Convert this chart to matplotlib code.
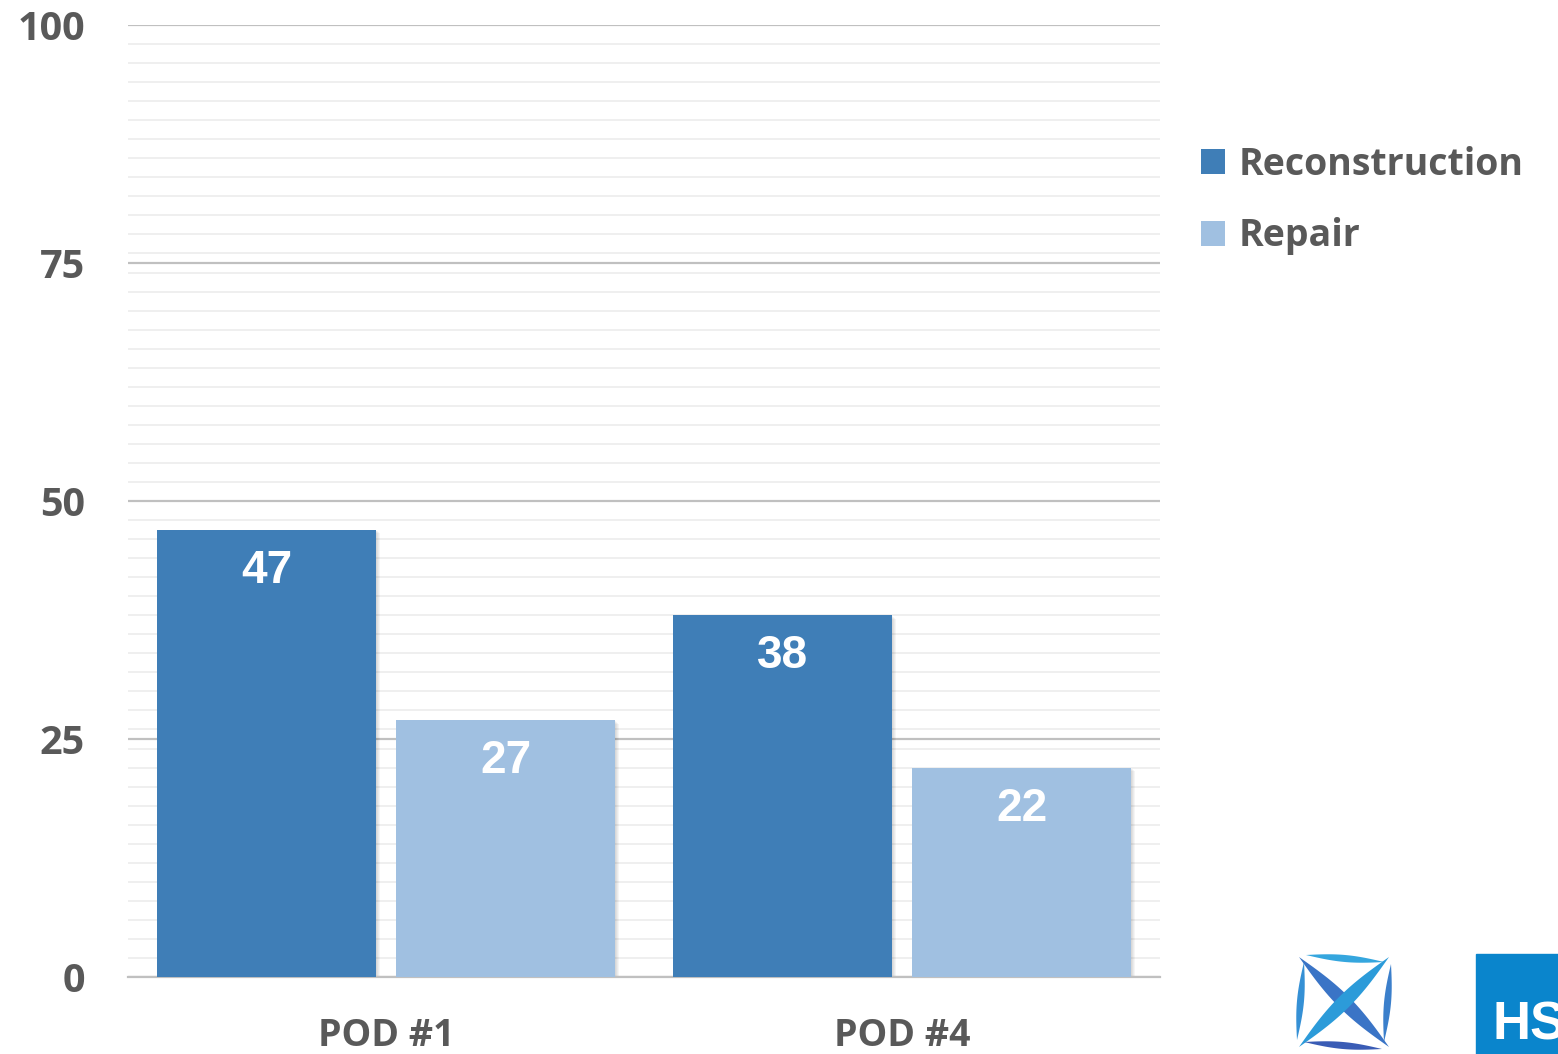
import matplotlib.pyplot as plt
import matplotlib.patches as mpatches
import numpy as np

categories = ['POD #1', 'POD #4']
reconstruction = [47, 38]
repair = [27, 22]
series_names = ['Reconstruction', 'Repair']

dark_blue = '#3f7eb7'
light_blue = '#a0c0e1'
gray = '#595959'

fig = plt.figure(figsize=(15.58, 10.54), dpi=100)
ax = fig.add_axes([128 / 1558, 1 - 977 / 1054, (1160 - 128) / 1558, (977 - 25) / 1054])

x = np.arange(len(categories))
w = 0.4226
off = 0.2316
b1 = ax.bar(x - off, reconstruction, w, color=dark_blue, zorder=3, label=series_names[0])
b2 = ax.bar(x + off, repair, w, color=light_blue, zorder=3, label=series_names[1])

# soft shadow
for bars in (b1, b2):
    for r in bars:
        for k in range(1, 5):
            ax.add_patch(mpatches.Rectangle((r.get_x() + 0.002 * k, 0), r.get_width(), r.get_height() - 0.1 * k,
                                            color='black', alpha=0.04, zorder=2, lw=0))

for bars in (b1, b2):
    for r in bars:
        ax.text(r.get_x() + r.get_width() / 2, r.get_height() - 2.0, f'{r.get_height():.0f}',
                ha='center', va='top', color='white', fontsize=33, fontweight='bold',
                family='Liberation Sans', zorder=4)

ax.set_xlim(-0.5, 1.5)
ax.set_ylim(0, 100)
ax.set_yticks([0, 25, 50, 75, 100])
ax.set_yticks(np.arange(0, 101, 2), minor=True)
ax.grid(axis='y', which='major', color='#c0c0c0', lw=1.6, zorder=1)
ax.grid(axis='y', which='minor', color='#ececec', lw=1.2, zorder=0)
ax.tick_params(axis='y', which='both', length=0, pad=31)
ax.tick_params(axis='x', length=0, pad=29)
ax.set_xticks(x)
ax.set_xticklabels(categories)
for lab in ax.get_yticklabels():
    lab.set_fontsize(28.5)
for lab in ax.get_xticklabels():
    lab.set_fontsize(27)
for lab in ax.get_yticklabels() + ax.get_xticklabels():
    lab.set_fontweight('bold')
    lab.set_color(gray)
    lab.set_family('Open Sans')
for s in ['top', 'right', 'left']:
    ax.spines[s].set_visible(False)
ax.spines['bottom'].set_color('#c0c0c0')
ax.spines['bottom'].set_linewidth(1.6)

leg = fig.legend(handles=[b1, b2], labels=series_names, loc='upper left',
                 bbox_to_anchor=(1167 / 1558, 1 - 112 / 1054), frameon=False,
                 prop={'family': 'Open Sans', 'weight': 'bold', 'size': 27},
                 handlelength=0.65, handleheight=0.65, handletextpad=0.35, labelspacing=0.9)
for t in leg.get_texts():
    t.set_color(gray)

# logos (approximate)
def lens(ax_, p0, p1, bulge, color):
    p0 = np.array(p0)
    p1 = np.array(p1)
    d = p1 - p0
    n = np.array([-d[1], d[0]]) / np.hypot(*d)
    t = np.linspace(0, 1, 30)
    mid = p0 + np.outer(t, d)
    wdt = bulge * np.sin(np.pi * t)
    upper = mid + np.outer(wdt, n)
    lower = mid - np.outer(wdt, n)
    pts = np.vstack([upper, lower[::-1]])
    ax_.add_patch(mpatches.Polygon(pts, closed=True, color=color, lw=0))

lx = fig.add_axes([1294 / 1558, 1 - 1052 / 1054, 100 / 1558, 100 / 1054])
lx.set_xlim(0, 1)
lx.set_ylim(0, 1)
lx.axis('off')
lens(lx, (0.05, 0.95), (0.95, 0.05), 0.07, '#3a74c6')
lens(lx, (0.95, 0.95), (0.05, 0.05), 0.07, '#2c9bd9')
lens(lx, (0.12, 0.97), (0.9, 0.9), 0.035, '#35a6de')
lens(lx, (0.97, 0.88), (0.9, 0.1), 0.035, '#3b7fcb')
lens(lx, (0.88, 0.03), (0.1, 0.1), 0.035, '#3a5cb5')
lens(lx, (0.03, 0.12), (0.1, 0.9), 0.035, '#3590d5')

hs = fig.add_axes([1476 / 1558, 0, 82 / 1558, 100 / 1054])
hs.set_xlim(0, 1)
hs.set_ylim(0, 1)
hs.axis('off')
hs.add_patch(mpatches.Rectangle((0, 0), 1, 1, color='#0a85cc', transform=hs.transAxes, clip_on=False))
hs.text(0.2, 0.28, 'HS', color='white', fontsize=38, fontweight='bold', family='Liberation Sans',
        ha='left', va='center', clip_on=True)

fig.savefig('out.png', dpi=100)
